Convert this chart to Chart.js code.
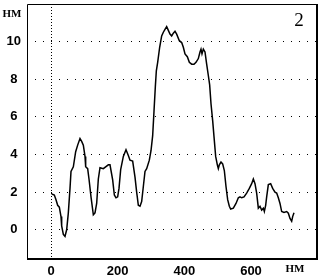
<!DOCTYPE html>
<html>
<head>
<meta charset="utf-8">
<script src="https://cdn.jsdelivr.net/npm/chart.js@4/dist/chart.umd.min.js"></script>
<style>
  body { margin: 0; background: #fff; }
</style>
</head>
<body>
<canvas id="spectre" width="322" height="279"></canvas>
<script>
// Profil mesuré (nm)
const xs = [2, 10, 15, 20, 25, 30, 32, 37, 42, 47, 52, 57, 60, 67, 74, 80, 87, 92, 97, 102,
  104, 110, 114, 120, 127, 132, 137, 142, 147, 157, 172, 177, 185, 190, 195, 200, 204, 209, 217, 225,
  232, 237, 245, 252, 257, 262, 267, 272, 277, 282, 287, 295, 300, 305, 309, 313, 316, 320, 326, 332,
  337, 342, 347, 352, 357, 362, 367, 372, 377, 385, 392, 397, 402, 409, 415, 422, 429, 435, 442, 447,
  450, 453, 457, 462, 467, 472, 476, 480, 485, 489, 494, 499, 502, 505, 510, 515, 520, 525, 530, 535,
  539, 547, 555, 562, 567, 572, 579, 587, 595, 602, 607, 612, 617, 622, 627, 632, 637, 640, 644, 647,
  652, 659, 665, 672, 677, 682, 687, 692, 699, 707, 712, 717, 722, 725, 729];
const ys = [1.9, 1.85, 1.6, 1.3, 1.2, 0.7, 0.2, -0.25, -0.35, 0, 0.9, 2.2, 3.1, 3.35, 4.15, 4.5, 4.85, 4.7, 4.5, 3.9,
  3.35, 3.25, 2.7, 1.75, 0.8, 0.9, 1.4, 2.7, 3.3, 3.25, 3.45, 3.45, 2.65, 1.85, 1.7, 1.75, 2.2, 3.2, 3.9, 4.25,
  3.95, 3.7, 3.65, 2.8, 2.0, 1.3, 1.25, 1.5, 2.3, 3.1, 3.25, 3.7, 4.2, 5.0, 6.3, 7.6, 8.45, 8.9, 9.7, 10.3,
  10.5, 10.65, 10.8, 10.6, 10.4, 10.3, 10.45, 10.55, 10.4, 10.05, 9.95, 9.7, 9.35, 9.2, 8.9, 8.8, 8.8, 8.9, 9.1, 9.45,
  9.6, 9.35, 9.6, 9.45, 8.8, 8.2, 7.7, 6.7, 5.8, 4.95, 3.9, 3.45, 3.25, 3.45, 3.6, 3.5, 3.15, 2.3, 1.6, 1.25,
  1.1, 1.15, 1.4, 1.7, 1.75, 1.7, 1.75, 1.95, 2.2, 2.45, 2.7, 2.45, 1.95, 1.15, 1.25, 1.05, 1.15, 0.97, 1.3, 1.75,
  2.4, 2.45, 2.2, 2.0, 1.95, 1.7, 1.4, 0.97, 0.92, 0.97, 0.88, 0.6, 0.45, 0.7, 0.9];
const xTicks = [0, 200, 400, 600];
const yTicks = [0, 2, 4, 6, 8, 10];
const unite = 'НМ';
const numero = '2';

// Cadre + textes annexes
const cadre = {
  id: 'cadre',
  afterDraw(chart) {
    const { ctx, chartArea: a } = chart;
    ctx.save();
    ctx.strokeStyle = '#000';
    ctx.lineWidth = 1;
    ctx.beginPath();
    ctx.moveTo(a.left + 0.5, a.bottom);
    ctx.lineTo(a.left + 0.5, a.top + 0.5);
    ctx.lineTo(a.right, a.top + 0.5);
    ctx.stroke();
    ctx.lineWidth = 2;
    ctx.beginPath();
    ctx.moveTo(a.right + 1, a.top);
    ctx.lineTo(a.right + 1, a.bottom + 1);
    ctx.lineTo(a.left, a.bottom + 1);
    ctx.stroke();

    ctx.fillStyle = '#000';
    ctx.textAlign = 'center';
    ctx.textBaseline = 'middle';
    ctx.font = 'bold 11px "Liberation Serif"';
    ctx.fillText(unite, 12, 14);
    ctx.fillText(unite, 295, 269);
    ctx.font = '19px "Liberation Serif"';
    ctx.textBaseline = 'alphabetic';
    ctx.fillText(numero, 299, 26);
    ctx.restore();
  }
};

const tickFont = { family: '"Liberation Sans"', size: 13, weight: 'bold' };

// pas de marge automatique autour des axes
const sansMarge = s => {
  s.paddingTop = 0; s.paddingBottom = 0; s.paddingLeft = 0; s.paddingRight = 0;
};

new Chart(document.getElementById('spectre'), {
  type: 'line',
  data: {
    datasets: [{
      data: xs.map((x, i) => ({ x: x, y: ys[i] })),
      borderColor: '#000',
      borderWidth: 1.5,
      pointRadius: 0,
      tension: 0,
      fill: false
    }]
  },
  options: {
    responsive: false,
    animation: false,
    layout: { padding: { left: 0, top: 4, right: 6, bottom: 0 } },
    plugins: { legend: { display: false }, tooltip: { enabled: false } },
    scales: {
      x: {
        type: 'linear',
        min: -72,
        max: 795,
        afterBuildTicks: s => { s.ticks = xTicks.map(v => ({ value: v })); },
        afterFit: s => { s.height = 21; sansMarge(s); },
        grid: {
          color: c => c.tick && c.tick.value === 0 ? '#000' : 'transparent',
          tickLength: 0,
          lineWidth: 1
        },
        border: { display: false, dash: [1, 2] },
        ticks: { color: '#000', font: tickFont, padding: 6, maxRotation: 0 }
      },
      y: {
        min: -1.5,
        max: 12,
        afterBuildTicks: s => { s.ticks = yTicks.map(v => ({ value: v })); },
        afterFit: s => { s.width = 27; sansMarge(s); },
        grid: { color: '#000', tickLength: 0, lineWidth: 1 },
        border: { display: false, dash: [1, 7] },
        ticks: { color: '#000', font: tickFont, padding: 6, crossAlign: 'center' }
      }
    }
  },
  plugins: [cadre]
});
</script>
</body>
</html>
